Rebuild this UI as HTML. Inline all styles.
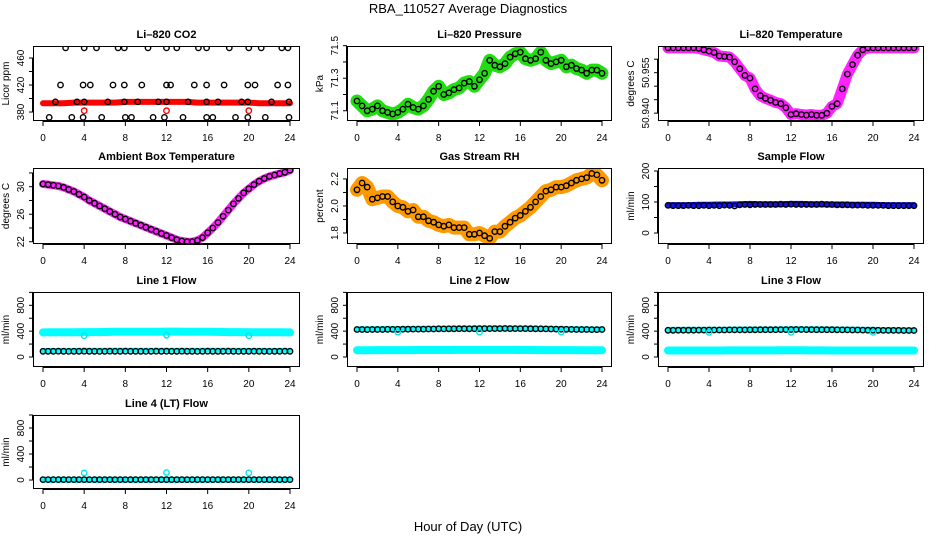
<!DOCTYPE html>
<html><head><meta charset="utf-8"><style>
html,body{margin:0;padding:0;background:#fff;}
svg{display:block;font-family:"Liberation Sans",Arial,sans-serif;}
</style></head><body>
<svg id="c" width="936" height="540" viewBox="0 0 936 540" xmlns="http://www.w3.org/2000/svg">
<text x="468" y="13" text-anchor="middle" font-size="13">RBA_110527  Average Diagnostics</text>
<text x="468" y="531" text-anchor="middle" font-size="13">Hour of Day (UTC)</text>
</svg>
<script>
// ---- data ----
const xTicks = [0,4,8,12,16,20,24];
const co2Band = [393,393,393,394,394,394,394,394,395,395,395,395,395,395,395,394,394,394,394,394,394,393,393,393,393];
const co2BlackHours = [2.2,4,5.2,7.3,7.9,10.2,12,13,15.1,15.9,18.1,20,21.2,23.2,23.8,1.7,3.9,4.6,6.8,7.9,9.6,12,12.4,14.7,15.9,17.6,19.9,20.6,22.8,23.8,1.2,3.3,4,6.3,7.9,9.2,11.2,12,14.1,15.9,17,19.3,19.9,22.2,23.9,0.6,2.8,3.9,5.7,8,8.6,10.7,11.8,13.6,15.9,16.5,18.7,19.9,21.6,23.9];
const co2BlackVals = [475,475,475,475,475,475,475,475,475,475,475,475,475,475,475,420,420,420,420,420,420,420,420,420,420,420,420,420,420,420,395,395,395,395,395,395,395,395,395,395,395,395,395,395,395,372,372,372,372,372,372,372,372,372,372,372,372,372,372,372];
const co2OutHours = [4,12,20];
const co2OutVals = [382,382,382];
const presVals = [71.16,71.13,71.10,71.11,71.13,71.10,71.09,71.08,71.09,71.11,71.14,71.12,71.11,71.13,71.17,71.22,71.25,71.20,71.21,71.23,71.24,71.27,71.28,71.25,71.29,71.33,71.41,71.38,71.37,71.39,71.43,71.45,71.46,71.42,71.41,71.42,71.46,71.41,71.39,71.40,71.41,71.37,71.38,71.36,71.35,71.33,71.35,71.35,71.33];
const tempVals = [50.9642,50.9642,50.9642,50.9642,50.9642,50.9642,50.9640,50.9635,50.9630,50.9625,50.9612,50.9610,50.9608,50.9590,50.9565,50.9540,50.9530,50.9490,50.9465,50.9455,50.9448,50.9440,50.9435,50.9420,50.9395,50.9398,50.9395,50.9393,50.9395,50.9392,50.9392,50.9400,50.9425,50.9435,50.9490,50.9545,50.9580,50.9615,50.9635,50.9642,50.9642,50.9642,50.9642,50.9642,50.9642,50.9642,50.9642,50.9642,50.9642];
const ambVals = [30.4,30.3,30.2,30.1,29.9,29.6,29.3,28.9,28.5,28.0,27.6,27.2,26.8,26.4,26.0,25.6,25.3,25.0,24.7,24.4,24.1,23.8,23.5,23.2,22.9,22.6,22.3,22.1,22.0,22.0,22.2,22.6,23.3,24.0,24.8,25.7,26.6,27.5,28.3,29.1,29.7,30.3,30.8,31.2,31.5,31.7,31.9,32.1,32.4];
const rhVals = [2.12,2.17,2.14,2.05,2.06,2.07,2.07,2.03,2.00,1.99,1.96,1.97,1.92,1.92,1.89,1.88,1.86,1.85,1.86,1.84,1.84,1.84,1.79,1.79,1.80,1.78,1.76,1.81,1.81,1.85,1.88,1.91,1.93,1.96,1.99,2.03,2.07,2.11,2.12,2.14,2.14,2.15,2.17,2.19,2.20,2.21,2.24,2.23,2.19];
const sampleBlue = [90,90,90,91,91,92,92,93,94,93,93,93,94,94,93,93,92,92,91,91,91,90,90,90,90];
const sampleBlack = [89,88,88,88,89,88,88,89,88,89,88,90,89,87,91,92,91,92,92,92,92,92,93,92,93,92,92,92,92,92,93,92,92,91,91,91,90,90,90,89,89,89,89,88,88,88,88,88,88];
const l1Cyan = [380,382,383,384,385,386,387,390,392,392,391,392,393,393,392,391,390,388,386,385,384,383,382,382,381];
const l1CyanLow = [100,101,102,102,103,103,103,103,103,103,103,103,103,103,103,103,103,103,103,103,102,102,102,102,102];
const l1Black = [88,88,88,89,88,87,88,88,89,88,88,87,88,89,88,88,89,88,88,88,87,88,89,88,90,88,88,89,88,88,87,88,89,88,88,88,89,88,87,88,88,89,88,88,87,88,88,89,88];
const l1OutHours = [4,12,20];
const l1OutVals = [330,335,330];
const l2Cyan = [430,430,431,432,432,434,436,438,440,440,440,441,442,442,442,442,441,440,438,436,432,430,428,427,426];
const l2CyanLow = [105,105,106,106,107,107,108,108,108,108,109,109,110,110,110,109,108,108,107,107,106,106,105,105,105];
const l2Black = [425,425,424,425,426,425,428,427,428,430,430,431,432,432,433,434,436,435,436,437,438,438,437,438,440,440,439,440,440,441,440,440,440,439,438,437,436,435,434,432,430,428,427,426,425,425,424,424,425];
const l2OutHours = [4,12,20];
const l2OutVals = [385,385,385];
const l3Cyan = [420,420,421,422,422,423,424,425,426,426,426,427,428,428,428,427,426,425,424,423,420,418,416,414,413];
const l3CyanLow = [100,100,100,101,101,101,102,102,102,102,102,103,104,103,102,102,101,101,101,101,100,100,100,100,100];
const l3Black = [413,413,414,414,415,415,416,416,417,417,418,418,419,419,420,420,421,421,422,422,423,423,424,424,425,425,425,424,424,423,423,422,422,421,420,419,418,417,416,415,414,413,412,412,411,411,410,410,410];
const l3OutHours = [4,12,20];
const l3OutVals = [380,380,380];
const l4Cyan = [5,5,5,5,5,5,5,5,5,5,5,5,5,5,5,5,5,5,5,5,5,5,5,5,5];
const l4Black = [6,6,6,6,6,6,6,6,6,6,6,6,6,6,6,6,6,6,6,6,6,6,6,6,6,6,6,6,6,6,6,6,6,6,6,6,6,6,6,6,6,6,6,6,6,6,6,6,6];
const l4OutHours = [4,12,20];
const l4OutVals = [110,115,110];

// ---- layout ----
const NS = "http://www.w3.org/2000/svg";
const svg = document.getElementById('c');
const colLeft = [33,347,658], colRight = [300,612,924];
const rowTop = [46,168,292,415], rowBot = [121,244,367,489];
function mk(tag, attrs, parent){ const e=document.createElementNS(NS,tag); for(const k in attrs) e.setAttribute(k,attrs[k]); (parent||svg).appendChild(e); return e; }
function idxHours(arr){ return arr.map((v,i)=>i*24/(arr.length-1)); }

function panel(p){
  const L=colLeft[p.col], R=colRight[p.col], T=rowTop[p.row], B=rowBot[p.row];
  const g = mk('g',{});
  
  
  const xs = h => L+10 + h*(R-L-20)/24;
  const ys = v => B - (v-p.ymin)*(B-T)/(p.ymax-p.ymin);
  const cid='clip'+p.name;
  const cp=mk('clipPath',{id:cid},g); mk('rect',{x:L,y:T,width:R-L,height:B-T},cp);
  const plot = mk('g',{'clip-path':'url(#'+cid+')'},g);
  
  
  (p.bands||[]).forEach(b=>{
    const hs = b.hours || idxHours(b.vals);
    const pts = b.vals.map((v,i)=>xs(hs[i]).toFixed(1)+','+ys(v).toFixed(1)).join(' ');
    const pl = mk('polyline',{points:pts,fill:'none',stroke:b.color,'stroke-width':b.w,'stroke-linejoin':'round','stroke-linecap':'round'},plot);
    
    
  });
  (p.points||[]).forEach(s=>{
    const hs = s.hours || idxHours(s.vals);
    s.vals.forEach((v,i)=>{
      const c=mk('circle',{cx:xs(hs[i]).toFixed(1),cy:ys(v).toFixed(1),r:s.r||2.7,fill:'none',stroke:s.color,'stroke-width':s.sw||1.4},plot);
      
      
    });
  });
  const box=mk('rect',{x:L+0.5,y:T+0.5,width:R-L-1,height:B-T-1,fill:'none',stroke:'#000','stroke-width':1},g);
  
  
  const t=mk('text',{x:(L+R)/2,y:T-8,'text-anchor':'middle','font-size':11,'font-weight':'bold'},g);
  t.textContent=p.title;
  
  
  mk('line',{x1:xs(0),x2:xs(24),y1:B+0.5,y2:B+0.5,stroke:'#000'},g);
  xTicks.forEach(h=>{
    mk('line',{x1:xs(h),x2:xs(h),y1:B,y2:B+5,stroke:'#000'},g);
    const tl=mk('text',{x:xs(h),y:B+20,'text-anchor':'middle','font-size':10},g);
    tl.textContent=h;
    
    
  });
  p.yticks.forEach(v=>{ mk('line',{x1:L-4,x2:L,y1:ys(v),y2:ys(v),stroke:'#000'},g); });
  mk('line',{x1:L-0.5,x2:L-0.5,y1:ys(p.yticks[0]),y2:ys(p.yticks[p.yticks.length-1]),stroke:'#000'},g);
  p.ylabels.forEach((lab,i)=>{
    const v=p.ylabelVals[i]; const X=L-9, Y=ys(v);
    const tl=mk('text',{x:X,y:Y,'text-anchor':'middle','font-size':10,transform:'rotate(-90 '+X+' '+Y+')'},g);
    tl.textContent=lab;
    
    
  });
  const X=L-24, Y=(T+B)/2;
  const yt=mk('text',{x:X,y:Y,'text-anchor':'middle','font-size':10,transform:'rotate(-90 '+X+' '+Y+')'},g);
  yt.textContent=p.ylab;
  
  
}

panel({name:'co2',col:0,row:0,title:'Li\u2013820 CO2',ylab:'Licor ppm',ymin:366.7,ymax:477.8,
  yticks:[380,400,420,440,460],ylabels:['380','420','460'],ylabelVals:[380,420,460],
  bands:[{vals:co2Band,color:'#ff0000',w:6}],
  points:[{vals:co2BlackVals,hours:co2BlackHours,color:'#000'},{vals:co2OutVals,hours:co2OutHours,color:'#ff0000'}]});
panel({name:'pressure',col:1,row:0,title:'Li\u2013820 Pressure',ylab:'kPa',ymin:71.037,ymax:71.498,
  yticks:[71.1,71.2,71.3,71.4,71.5],ylabels:['71.1','71.3','71.5'],ylabelVals:[71.1,71.3,71.5],
  bands:[{vals:presVals,color:'#22dd11',w:13}],
  points:[{vals:presVals,color:'#000'}]});
panel({name:'li-temp',col:2,row:0,title:'Li\u2013820 Temperature',ylab:'degrees C',ymin:50.9371,ymax:50.9649,
  yticks:[50.940,50.945,50.950,50.955,50.960],ylabels:['50.940','50.955'],ylabelVals:[50.940,50.955],
  bands:[{vals:tempVals,color:'#ff22ff',w:11}],
  points:[{vals:tempVals,color:'#000'}]});
panel({name:'ambient',col:0,row:1,title:'Ambient Box Temperature',ylab:'degrees C',ymin:21.67,ymax:32.72,
  yticks:[22,24,26,28,30,32],ylabels:['22','26','30'],ylabelVals:[22,26,30],
  bands:[{vals:ambVals,color:'#ff22ff',w:8}],
  points:[{vals:ambVals,color:'#000'}]});
panel({name:'rh',col:1,row:1,title:'Gas Stream RH',ylab:'percent',ymin:1.7185,ymax:2.281,
  yticks:[1.8,1.9,2.0,2.1,2.2],ylabels:['1.8','2.0','2.2'],ylabelVals:[1.8,2.0,2.2],
  bands:[{vals:rhVals,color:'#ff9900',w:14}],
  points:[{vals:rhVals,color:'#000'}]});
panel({name:'sample-flow',col:2,row:1,title:'Sample Flow',ylab:'ml/min',ymin:-35.5,ymax:209.7,
  yticks:[0,50,100,150,200],ylabels:['0','100','200'],ylabelVals:[0,100,200],
  bands:[{vals:sampleBlue,color:'#1111ee',w:6}],
  points:[{vals:sampleBlack,color:'#000'}]});
panel({name:'line1-flow',col:0,row:2,title:'Line 1 Flow',ylab:'ml/min',ymin:-155,ymax:1006,
  yticks:[0,200,400,600,800,1000],ylabels:['0','400','800'],ylabelVals:[0,400,800],
  bands:[{vals:l1Cyan,color:'#00ffff',w:8},{vals:l1CyanLow,color:'#00ffff',w:5}],
  points:[{vals:l1Black,color:'#000'},{vals:l1OutVals,hours:l1OutHours,color:'#00e5e5'}]});
panel({name:'line2-flow',col:1,row:2,title:'Line 2 Flow',ylab:'ml/min',ymin:-155,ymax:1006,
  yticks:[0,200,400,600,800,1000],ylabels:['0','400','800'],ylabelVals:[0,400,800],
  bands:[{vals:l2Cyan,color:'#00ffff',w:6},{vals:l2CyanLow,color:'#00ffff',w:8}],
  points:[{vals:l2Black,color:'#000'},{vals:l2OutVals,hours:l2OutHours,color:'#00e5e5'}]});
panel({name:'line3-flow',col:2,row:2,title:'Line 3 Flow',ylab:'ml/min',ymin:-155,ymax:1006,
  yticks:[0,200,400,600,800,1000],ylabels:['0','400','800'],ylabelVals:[0,400,800],
  bands:[{vals:l3Cyan,color:'#00ffff',w:6},{vals:l3CyanLow,color:'#00ffff',w:8}],
  points:[{vals:l3Black,color:'#000'},{vals:l3OutVals,hours:l3OutHours,color:'#00e5e5'}]});
panel({name:'line4-flow',col:0,row:3,title:'Line 4 (LT) Flow',ylab:'ml/min',ymin:-138,ymax:1000,
  yticks:[0,200,400,600,800,1000],ylabels:['0','400','800'],ylabelVals:[0,400,800],
  bands:[{vals:l4Cyan,color:'#00ffff',w:6}],
  points:[{vals:l4Black,color:'#000'},{vals:l4OutVals,hours:l4OutHours,color:'#00e5e5'}]});
</script>
</body></html>
